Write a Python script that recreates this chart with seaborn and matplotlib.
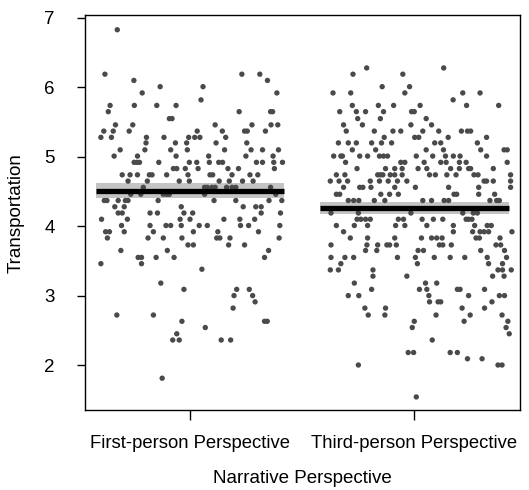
import numpy as np
import pandas as pd
import seaborn as sns
import matplotlib.pyplot as plt

# values: transportation score levels and the horizontal jitter of each dot
groups = ["First-person Perspective", "Third-person Perspective"]

first_levels = [6.83, 6.19, 6.10, 6.01, 5.92, 5.82, 5.74, 5.65, 5.55, 5.46, 5.37, 5.28, 5.20,
                5.10, 5.01, 4.92, 4.83, 4.74, 4.65, 4.56, 4.46, 4.37, 4.28, 4.19, 4.10, 4.01,
                3.92, 3.83, 3.73, 3.65, 3.55, 3.46, 3.38, 3.18, 3.09, 3.00, 2.91, 2.82, 2.72,
                2.63, 2.54, 2.45, 2.36, 1.81]
first_jitter = [
    [-0.324],
    [-0.379, 0.231, 0.311],
    [-0.250, 0.345],
    [-0.133, 0.058],
    [-0.213, 0.387],
    [0.049],
    [-0.356, -0.248, -0.148, -0.062],
    [-0.364, 0.219, 0.359, 0.368],
    [-0.092, -0.080],
    [-0.332, -0.255, 0.112, 0.276, 0.361, 0.391],
    [-0.384, -0.342, -0.271, 0.032, 0.144, 0.243, 0.255, 0.336],
    [-0.397, -0.350, -0.194, -0.116, -0.006, 0.021, 0.044, 0.159],
    [-0.196, -0.065, -0.015, 0.116, 0.253],
    [-0.311, -0.201, -0.086, -0.012, 0.154, 0.272, 0.323, 0.394],
    [-0.338, -0.234, -0.062, 0.083, 0.249, 0.370],
    [-0.249, -0.237, -0.225, -0.139, -0.003, 0.030, 0.086, 0.128, 0.145, 0.296, 0.323, 0.373, 0.412],
    [-0.074, -0.059, -0.021, 0.036, 0.169, 0.216, 0.376],
    [-0.302, -0.267, -0.234, -0.181, -0.169, -0.104, -0.009, 0.089, 0.101, 0.187, 0.267, 0.302],
    [-0.276, -0.190, -0.048, -0.003, 0.130, 0.175, 0.234, 0.281],
    [-0.208, 0.065, 0.077, 0.098, 0.112, 0.163, 0.187, 0.204, 0.359],
    [-0.264, -0.219, -0.119, -0.104, -0.092, 0.065, 0.382],
    [-0.382, -0.370, -0.320, -0.288, -0.276, -0.142, 0.107, 0.204, 0.352, 0.409],
    [-0.335, -0.293, -0.039, 0.237, 0.293, 0.317],
    [-0.320, -0.302, -0.178, -0.145, -0.027, 0.012, 0.317, 0.403],
    [-0.394, -0.279, -0.044, 0.000, 0.151, 0.222, 0.288],
    [-0.305, -0.178, -0.107, -0.086, -0.039, 0.041, 0.077, 0.225, 0.261, 0.400],
    [-0.376, -0.359, -0.293, -0.163, 0.015, 0.124, 0.305],
    [-0.368, -0.187, -0.119, -0.036, 0.119, 0.133, 0.178, 0.397],
    [-0.009, 0.015, 0.172, 0.243],
    [-0.308, -0.101, 0.350],
    [-0.231, -0.216, -0.151, -0.071, 0.332],
    [-0.397, -0.216],
    [0.053],
    [-0.130],
    [-0.027, 0.208, 0.264],
    [0.196, 0.279],
    [0.290],
    [0.192],
    [-0.326, -0.163],
    [-0.036, 0.332, 0.344],
    [0.068],
    [-0.059],
    [-0.077, -0.048, 0.139, 0.181],
    [-0.124],
]

third_levels = [6.28, 6.19, 6.01, 5.92, 5.82, 5.74, 5.65, 5.55, 5.46, 5.37, 5.28, 5.20, 5.10,
                5.01, 4.92, 4.83, 4.74, 4.65, 4.56, 4.46, 4.37, 4.19, 4.10, 4.01, 3.92, 3.83,
                3.73, 3.65, 3.55, 3.46, 3.37, 3.28, 3.18, 3.09, 3.00, 2.91, 2.82, 2.72, 2.63,
                2.54, 2.45, 2.36, 2.18, 2.09, 2.00, 1.54]
third_jitter = [
    [-0.213, 0.130],
    [-0.274, -0.052],
    [-0.144, -0.022],
    [-0.363, -0.284, -0.043, 0.215, 0.292],
    [0.172],
    [-0.277, -0.161, -0.093, 0.025, 0.232, 0.375],
    [-0.333, -0.259, -0.218, -0.138, -0.013, -0.001],
    [-0.253, -0.152, 0.052],
    [-0.316, -0.232, -0.016, 0.076],
    [-0.304, -0.179, -0.096, -0.061, 0.037, 0.108, 0.209, 0.236, 0.250],
    [-0.135, 0.001, 0.019, 0.150, 0.321],
    [-0.339, -0.295, -0.259, -0.191, -0.147, -0.102, 0.090, 0.117, 0.280],
    [-0.277, -0.173, 0.052, 0.129, 0.295, 0.399, 0.413],
    [-0.360, -0.328, -0.321, -0.244, -0.209, -0.156, -0.138, -0.120, 0.008, 0.081, 0.138, 0.173, 0.203, 0.321],
    [-0.307, -0.061, -0.043, 0.043, 0.117, 0.141, 0.200, 0.230, 0.413],
    [-0.256, -0.129, -0.088, -0.055, 0.016, 0.055, 0.161, 0.200, 0.241, 0.250, 0.351],
    [-0.348, -0.310, -0.164, -0.152, -0.141, -0.108, -0.088, -0.055, 0.067, 0.093, 0.144, 0.185, 0.265, 0.283, 0.428],
    [-0.375, -0.336, -0.298, -0.197, -0.156, -0.117, -0.076, -0.034, 0.310, 0.321, 0.351, 0.428],
    [-0.316, -0.244, -0.230, -0.194, -0.088, 0.004, 0.152, 0.286, 0.428],
    [-0.348, -0.333, -0.150, -0.111, -0.072, 0.176, 0.188, 0.286, 0.357],
    [-0.295, -0.271, -0.248, -0.179, -0.132, 0.037, 0.076, 0.132, 0.152, 0.336, 0.366, 0.378],
    [-0.372, -0.250, -0.016, 0.215, 0.262, 0.280],
    [-0.256, -0.239, -0.218, -0.197, -0.072, -0.049, 0.034, 0.084, 0.126, 0.230, 0.241, 0.256],
    [-0.348, -0.268, -0.209, -0.084, -0.043, 0.055, 0.173, 0.268, 0.324, 0.342],
    [-0.316, 0.173, 0.259, 0.292, 0.310, 0.330, 0.434],
    [-0.286, -0.209, -0.088, 0.031, 0.076, 0.099, 0.123, 0.274, 0.289, 0.381],
    [-0.372, -0.212, -0.164, -0.123, -0.111, -0.081, 0.111, 0.126, 0.164, 0.363, 0.384],
    [-0.218, -0.168, 0.016, 0.040, 0.295, 0.401],
    [-0.372, -0.310, -0.271, -0.076, 0.004, 0.088, 0.159, 0.224, 0.324, 0.410],
    [-0.328, 0.013, 0.330, 0.392],
    [-0.375, -0.339, -0.185, 0.372, 0.392, 0.431],
    [-0.185, -0.034, 0.348, 0.399],
    [-0.268, 0.049, 0.099],
    [-0.191, 0.022, 0.055, 0.191, 0.203, 0.312],
    [-0.295, -0.248, 0.064, 0.241, 0.378, 0.401],
    [0.067, 0.105, 0.117, 0.345],
    [-0.221, -0.129, 0.212, 0.312],
    [-0.206, -0.132, 0.096, 0.248, 0.390],
    [-0.001, 0.221, 0.416],
    [-0.010, 0.408],
    [0.422],
    [0.079],
    [-0.028, -0.004, 0.159, 0.191],
    [0.236, 0.301],
    [-0.250, 0.372, 0.390],
    [0.008],
]

# group means and confidence band as drawn in the reference
means = [4.51, 4.26]
ci_low = [4.41, 4.18]
ci_high = [4.62, 4.35]

rows = []
for gi, (levels, jit) in enumerate([(first_levels, first_jitter), (third_levels, third_jitter)]):
    for lev, dxs in zip(levels, jit):
        for dx in dxs:
            rows.append({"group": groups[gi], "pos": gi + dx, "Transportation": lev})
df = pd.DataFrame(rows)

sns.set_theme(style="ticks")
plt.rcParams["font.family"] = ["Liberation Sans", "DejaVu Sans"]
plt.rcParams["text.color"] = "black"
plt.rcParams["axes.labelcolor"] = "black"
plt.rcParams["xtick.color"] = "black"
plt.rcParams["ytick.color"] = "black"

fig, ax = plt.subplots(figsize=(5.29, 4.90), dpi=100)
fig.subplots_adjust(left=0.161, right=0.983, top=0.969, bottom=0.163)

half = 0.42
for i in range(2):
    ax.fill_between([i - half, i + half], ci_low[i], ci_high[i], color="#c4c4c4", lw=0, zorder=1)

sns.scatterplot(data=df, x="pos", y="Transportation", color="#4a4a4a", s=15,
                edgecolor="none", linewidth=0, ax=ax, zorder=2, legend=False)

for i in range(2):
    ax.hlines(means[i], i - half, i + half, color="black", lw=3.8, zorder=3)

ax.set_xlim(-0.467, 1.47)
ax.set_ylim(1.35, 7.04)
ax.set_xticks([0, 1])
ax.set_xticklabels(groups, fontsize=13.3)
ax.set_yticks([2, 3, 4, 5, 6, 7])
ax.set_yticklabels(["2", "3", "4", "5", "6", "7"], fontsize=13.5)
ax.tick_params(axis="x", length=7, width=1, pad=11)
ax.tick_params(axis="y", length=6, width=1, pad=16)
for sp in ax.spines.values():
    sp.set_visible(True)
    sp.set_color("black")
    sp.set_linewidth(1)
ax.set_xlabel("Narrative Perspective", fontsize=13.5, labelpad=13)
ax.set_ylabel("Transportation", fontsize=13.5, labelpad=14)

fig.savefig("out.png", dpi=100)
